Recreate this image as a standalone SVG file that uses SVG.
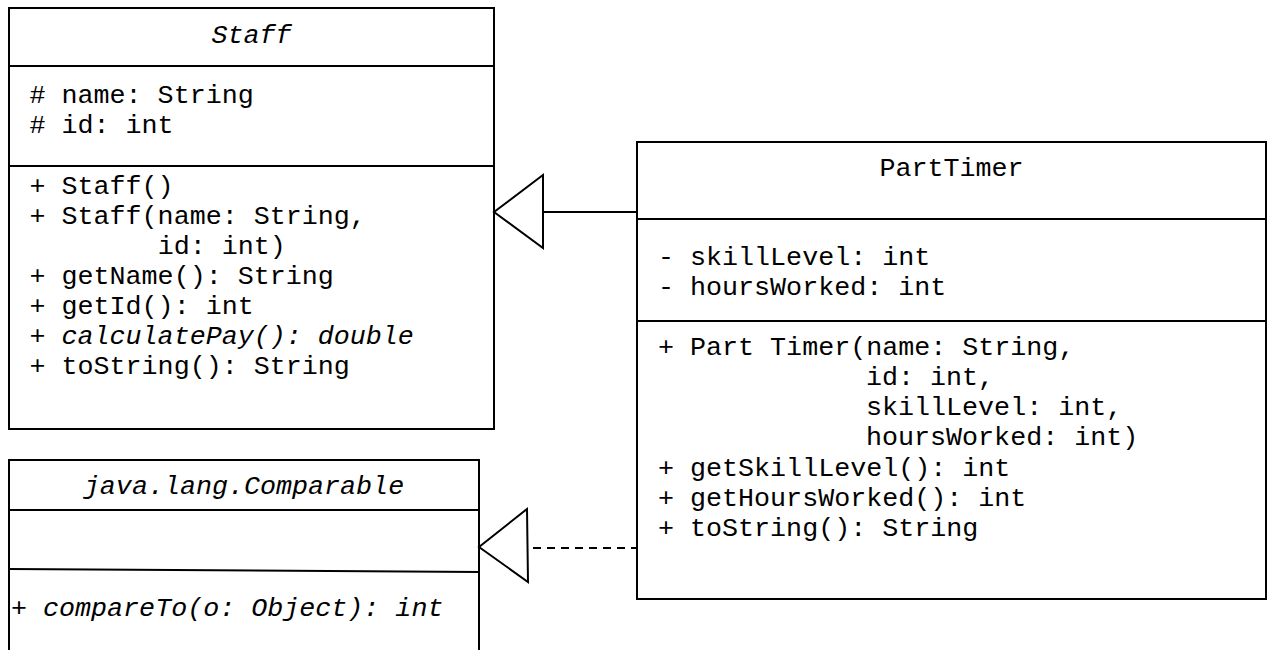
<svg xmlns="http://www.w3.org/2000/svg" width="1269" height="650" viewBox="0 0 1269 650">
<style>
.box{fill:#fff;stroke:#000;stroke-width:2}
.div{stroke:#000;stroke-width:2;fill:none}
.t{font-family:"Courier New","Nimbus Mono PS","Nimbus Mono L","FreeMono","Liberation Mono",monospace;font-size:26.7px;fill:#000}
.i{font-style:italic}
.c{text-anchor:middle}
.edge{stroke:#000;stroke-width:2;fill:none}
.dash{stroke-dasharray:8 6}
.head{fill:#fff;stroke:#000;stroke-width:2;stroke-linejoin:miter}
</style>
<rect width="1269" height="650" fill="#fff"/>
<g id="Staff">
<rect class="box" x="9" y="8" width="485" height="421"/>
<line class="div" x1="9" y1="66" x2="494" y2="66"/>
<line class="div" x1="9" y1="166" x2="494" y2="166"/>
<text class="t i c" x="251.5" y="43">Staff</text>
<text class="t" x="29.5" y="103"># name: String</text>
<text class="t" x="29.5" y="133"># id: int</text>
<text class="t" x="29.5" y="194">+ Staff()</text>
<text class="t" x="29.5" y="224">+ Staff(name: String,</text>
<text class="t" x="157.7" y="254">id: int)</text>
<text class="t" x="29.5" y="284">+ getName(): String</text>
<text class="t" x="29.5" y="314">+ getId(): int</text>
<text class="t i" x="29.5" y="344">+ calculatePay(): double</text>
<text class="t" x="29.5" y="374">+ toString(): String</text>
</g>
<g id="Comparable">
<path class="box" d="M9,660 L9,460 L479,460 L479,660"/>
<line class="div" x1="9" y1="510" x2="479" y2="510"/>
<line class="div" x1="9" y1="569" x2="479" y2="572"/>
<text class="t i c" x="244" y="494">java.lang.Comparable</text>
<text class="t i" x="11" y="616">+ compareTo(o: Object): int</text>
</g>
<g id="PartTimer">
<rect class="box" x="637" y="142" width="629" height="457"/>
<line class="div" x1="637" y1="219" x2="1266" y2="219"/>
<line class="div" x1="637" y1="321" x2="1266" y2="321"/>
<text class="t c" x="951.5" y="176">PartTimer</text>
<text class="t" x="658" y="265">- skillLevel: int</text>
<text class="t" x="658" y="295">- hoursWorked: int</text>
<text class="t" x="658" y="355">+ Part Timer(name: String,</text>
<text class="t" x="866" y="385">id: int,</text>
<text class="t" x="866" y="415">skillLevel: int,</text>
<text class="t" x="866" y="445">hoursWorked: int)</text>
<text class="t" x="658" y="476">+ getSkillLevel(): int</text>
<text class="t" x="658" y="506">+ getHoursWorked(): int</text>
<text class="t" x="658" y="536">+ toString(): String</text>
</g>
<g id="connectors">
<line class="edge" x1="543" y1="212" x2="637" y2="212"/>
<polygon class="head" points="494,212 543,175 543,248"/>
<line class="edge dash" x1="533" y1="548" x2="637" y2="548"/>
<polygon class="head" points="479,547 527,509 528,582"/>
</g>
</svg>
